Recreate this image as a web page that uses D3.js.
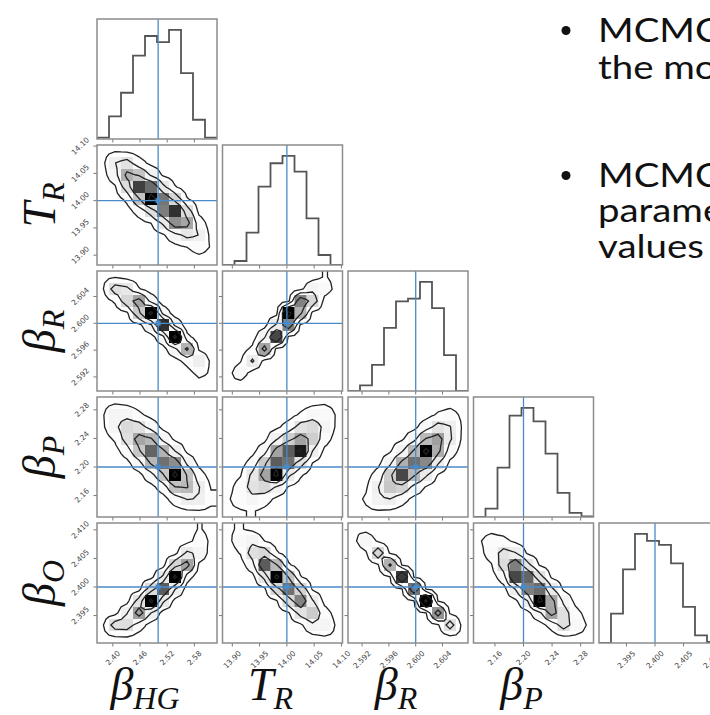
<!DOCTYPE html>
<html>
<head>
<meta charset="utf-8">
<title>Corner plot</title>
<style>
  body { margin: 0; background: #fff; }
  svg { display: block; }
  .frame { fill: none; stroke: #8c8c8c; stroke-width: 1.5; }
  .hist { fill: none; stroke: #555; stroke-width: 1.8; }
  .contour { fill: none; stroke: #222; stroke-width: 1.3; }
  .truth { stroke: #4a8ac8; stroke-width: 1.3; }
  .tickmark { stroke: #777; stroke-width: 1; }
  .ticklab { font-family: "DejaVu Sans", sans-serif; font-size: 7.5px; fill: #444; }
  .label { font-family: "Liberation Serif", serif; font-style: italic; font-size: 46px; fill: #111; }
  .note { font-family: Lato, sans-serif; font-size: 32px; fill: #111; }
</style>
</head>
<body>
<svg id="chart" width="710" height="715"></svg>
<script src="https://d3js.org/d3.v7.min.js"></script>
<script>
// parameters, in corner order
const paramBase = ["β", "T", "β", "β", "β"];
const paramSub = ["HG", "R", "R", "P", "O"];
const ranges = [[2.365, 2.63], [13.882, 14.102], [2.5899, 2.6078], [2.130, 2.298], [2.3902, 2.4112]];
const truths = [2.50, 14.00, 2.600, 2.20, 2.400];
const ticks = [
  [2.40, 2.46, 2.52, 2.58],
  [13.90, 13.95, 14.00, 14.05, 14.10],
  [2.592, 2.596, 2.600, 2.604],
  [2.16, 2.20, 2.24, 2.28],
  [2.395, 2.400, 2.405, 2.410]
];
const tickFormats = [".2f", ".2f", ".3f", ".2f", ".3f"];

// 1D histograms, 10 bins over each range
const histHG = [4, 67, 137, 247, 305, 287, 323, 195, 57, 4];
const histTR = [0, 12, 97, 235, 305, 327, 280, 140, 30, 0];
const histBR = [0, 17, 78, 188, 267, 275, 325, 247, 107, 0];
const histBP = [0, 25, 147, 302, 325, 285, 189, 72, 12, 2];
const histBO = [0, 88, 220, 326, 305, 293, 238, 108, 23, 3];
const hists = [histHG, histTR, histBR, histBP, histBO];

// 2D histograms (relative counts), rows listed from top (high y value) to bottom
const gridTR_HG = [
  [3, 6, 4, 1, 0, 0, 0, 0, 0, 0],
  [4, 24, 33, 13, 3, 0, 0, 0, 0, 0],
  [2, 17, 55, 47, 22, 5, 0, 0, 0, 0],
  [0, 5, 36, 85, 75, 30, 8, 0, 0, 0],
  [0, 1, 10, 47, 98, 72, 40, 8, 0, 0],
  [0, 0, 2, 13, 35, 70, 88, 36, 3, 0],
  [0, 0, 0, 2, 7, 28, 65, 58, 14, 1],
  [0, 0, 0, 0, 0, 5, 18, 30, 24, 3],
  [0, 0, 0, 0, 0, 0, 3, 7, 13, 6],
  [0, 0, 0, 0, 0, 0, 0, 1, 3, 3]
];
const gridBR_HG = [
  [4, 6, 2, 0, 0, 0, 0, 0, 0, 0],
  [6, 35, 30, 8, 0, 0, 0, 0, 0, 0],
  [1, 9, 40, 60, 18, 0, 0, 0, 0, 0],
  [0, 0, 4, 45, 100, 18, 0, 0, 0, 0],
  [0, 0, 0, 3, 22, 90, 20, 0, 0, 0],
  [0, 0, 0, 0, 2, 18, 100, 11, 0, 0],
  [0, 0, 0, 0, 0, 2, 20, 55, 5, 0],
  [0, 0, 0, 0, 0, 0, 2, 12, 25, 4],
  [0, 0, 0, 0, 0, 0, 0, 1, 12, 5],
  [0, 0, 0, 0, 0, 0, 0, 0, 0, 2]
];
const gridBR_TR = [
  [0, 0, 0, 0, 0, 0, 0, 2, 8, 4],
  [0, 0, 0, 0, 0, 0, 3, 20, 14, 3],
  [0, 0, 0, 0, 0, 3, 70, 40, 2, 0],
  [0, 0, 0, 0, 2, 100, 55, 3, 0, 0],
  [0, 0, 0, 2, 28, 70, 4, 0, 0, 0],
  [0, 0, 1, 22, 85, 4, 0, 0, 0, 0],
  [0, 1, 10, 60, 2, 0, 0, 0, 0, 0],
  [1, 6, 28, 2, 0, 0, 0, 0, 0, 0],
  [3, 16, 1, 0, 0, 0, 0, 0, 0, 0],
  [6, 1, 0, 0, 0, 0, 0, 0, 0, 0]
];
const gridBP_HG = [
  [4, 6, 4, 1, 0, 0, 0, 0, 0, 0],
  [6, 20, 19, 10, 3, 0, 0, 0, 0, 0],
  [5, 20, 38, 35, 17, 3, 0, 0, 0, 0],
  [1, 9, 35, 59, 53, 19, 4, 0, 0, 0],
  [0, 2, 15, 47, 78, 55, 25, 4, 0, 0],
  [0, 0, 3, 18, 53, 75, 67, 21, 3, 0],
  [0, 0, 1, 3, 17, 47, 100, 48, 13, 2],
  [0, 0, 0, 1, 3, 14, 49, 52, 26, 6],
  [0, 0, 0, 0, 0, 2, 14, 26, 24, 10],
  [0, 0, 0, 0, 0, 0, 2, 5, 6, 5]
];
const gridBP_TR = [
  [0, 0, 0, 0, 0, 0, 1, 4, 6, 4],
  [0, 0, 0, 0, 0, 2, 9, 17, 15, 6],
  [0, 0, 0, 1, 4, 13, 34, 38, 20, 5],
  [0, 0, 1, 3, 23, 44, 60, 44, 13, 2],
  [0, 0, 3, 17, 60, 80, 95, 25, 4, 0],
  [0, 2, 13, 45, 80, 75, 34, 7, 0, 0],
  [1, 6, 30, 60, 100, 29, 9, 0, 0, 0],
  [3, 13, 34, 39, 23, 6, 1, 0, 0, 0],
  [6, 13, 19, 13, 4, 0, 0, 0, 0, 0],
  [5, 6, 8, 4, 0, 0, 0, 0, 0, 0]
];
const gridBP_BR = [
  [0, 0, 0, 0, 0, 0, 0, 1, 3, 3],
  [0, 0, 0, 0, 0, 0, 2, 9, 12, 5],
  [0, 0, 0, 0, 1, 3, 16, 33, 26, 6],
  [0, 0, 0, 1, 5, 19, 52, 61, 28, 5],
  [0, 0, 1, 5, 23, 53, 100, 57, 15, 2],
  [0, 0, 3, 21, 56, 75, 68, 27, 4, 0],
  [0, 2, 13, 44, 85, 53, 28, 6, 0, 0],
  [0, 5, 24, 47, 42, 19, 6, 0, 0, 0],
  [2, 9, 22, 25, 13, 3, 0, 0, 0, 0],
  [2, 5, 6, 5, 2, 0, 0, 0, 0, 0]
];
const gridBO_HG = [
  [0, 0, 0, 0, 0, 0, 0, 0, 8, 4],
  [0, 0, 0, 0, 0, 0, 0, 2, 13, 5],
  [0, 0, 0, 0, 0, 0, 2, 29, 20, 1],
  [0, 0, 0, 0, 0, 1, 40, 60, 4, 0],
  [0, 0, 0, 0, 2, 29, 100, 13, 0, 0],
  [0, 0, 0, 2, 37, 80, 26, 1, 0, 0],
  [0, 0, 2, 34, 100, 29, 2, 0, 0, 0],
  [0, 2, 24, 62, 25, 1, 0, 0, 0, 0],
  [6, 35, 36, 15, 1, 0, 0, 0, 0, 0],
  [3, 6, 7, 1, 0, 0, 0, 0, 0, 0]
];
const gridBO_TR = [
  [6, 8, 4, 0, 0, 0, 0, 0, 0, 0],
  [4, 15, 21, 7, 1, 0, 0, 0, 0, 0],
  [1, 8, 35, 39, 9, 0, 0, 0, 0, 0],
  [0, 1, 17, 80, 52, 9, 0, 0, 0, 0],
  [0, 0, 2, 31, 100, 49, 8, 0, 0, 0],
  [0, 0, 0, 4, 40, 75, 42, 5, 0, 0],
  [0, 0, 0, 0, 5, 38, 70, 27, 3, 0],
  [0, 0, 0, 0, 0, 5, 33, 45, 13, 2],
  [0, 0, 0, 0, 0, 0, 4, 21, 20, 5],
  [0, 0, 0, 0, 0, 0, 0, 3, 6, 5]
];
const gridBO_BR = [
  [6, 3, 0, 0, 0, 0, 0, 0, 0, 0],
  [4, 18, 5, 0, 0, 0, 0, 0, 0, 0],
  [0, 5, 40, 5, 0, 0, 0, 0, 0, 0],
  [0, 0, 5, 55, 6, 0, 0, 0, 0, 0],
  [0, 0, 0, 6, 88, 6, 0, 0, 0, 0],
  [0, 0, 0, 0, 6, 75, 6, 0, 0, 0],
  [0, 0, 0, 0, 0, 6, 100, 6, 0, 0],
  [0, 0, 0, 0, 0, 0, 6, 65, 5, 0],
  [0, 0, 0, 0, 0, 0, 0, 5, 35, 4],
  [0, 0, 0, 0, 0, 0, 0, 0, 4, 5]
];
const gridBO_BP = [
  [4, 4, 1, 0, 0, 0, 0, 0, 0, 0],
  [6, 12, 11, 4, 0, 0, 0, 0, 0, 0],
  [3, 14, 33, 26, 5, 0, 0, 0, 0, 0],
  [1, 6, 37, 71, 32, 6, 0, 0, 0, 0],
  [0, 1, 15, 85, 78, 34, 5, 0, 0, 0],
  [0, 0, 2, 26, 71, 76, 29, 5, 0, 0],
  [0, 0, 0, 4, 24, 100, 59, 21, 3, 0],
  [0, 0, 0, 0, 3, 19, 60, 35, 12, 2],
  [0, 0, 0, 0, 0, 2, 12, 35, 16, 6],
  [0, 0, 0, 0, 0, 0, 1, 5, 5, 4]
];
// grids[row][col]
const grids = {
  "1,0": gridTR_HG,
  "2,0": gridBR_HG, "2,1": gridBR_TR,
  "3,0": gridBP_HG, "3,1": gridBP_TR, "3,2": gridBP_BR,
  "4,0": gridBO_HG, "4,1": gridBO_TR, "4,2": gridBO_BR, "4,3": gridBO_BP
};
// contour levels as fractions of each panel's peak cell
const contourLevels = [0.07, 0.25, 0.5, 0.9];

const noteLines = ["MCMC fits", "the model", "MCMC recovers", "parameters", "values"];
const noteBullets = [true, false, true, false, false];

// layout
const size = 120;
const colX = k => 97 + k * 125.5;
const rowY = k => 19 + k * 126;
const noteY = [42, 79, 187, 222, 258];

const svg = d3.select("#chart");
const n = paramBase.length;
const xs = ranges.map((r, k) => d3.scaleLinear().domain(r).range([colX(k), colX(k) + size]));
const ys = ranges.map((r, k) => d3.scaleLinear().domain(r).range([rowY(k) + size, rowY(k)]));
const edges = ranges.map(r => d3.range(11).map(i => r[0] + i * (r[1] - r[0]) / 10));

const defs = svg.append("defs");

function clipFor(r, c) {
  const id = `clip-${r}-${c}`;
  defs.append("clipPath").attr("id", id)
    .append("rect").attr("x", colX(c)).attr("y", rowY(r)).attr("width", size).attr("height", size);
  return `url(#${id})`;
}

function tickLabel(g, x, y, str, mode) {
  const t = g.append("text").attr("class", "ticklab").text(str)
    .attr("text-anchor", "middle").attr("dominant-baseline", "central");
  const L = t.node().getComputedTextLength();
  const b = (L + 6) * Math.SQRT1_2;
  const cx = mode === "x" ? x : x - b / 2;
  const cy = mode === "x" ? y + b / 2 : y;
  t.attr("transform", `translate(${cx},${cy}) rotate(-45)`);
}

// pad the grid the way corner does, so contours can close past the edges
function padGrid(H) {
  const m = H.length, N = m + 4;
  const P = Array.from({ length: N }, () => new Array(N).fill(0));
  for (let j = 0; j < m; j++) for (let i = 0; i < m; i++) P[j + 2][i + 2] = H[j][i];
  for (let j = 0; j < m; j++) { P[j + 2][1] = H[j][0]; P[j + 2][N - 2] = H[j][m - 1]; }
  for (let i = 0; i < m; i++) { P[1][i + 2] = H[0][i]; P[N - 2][i + 2] = H[m - 1][i]; }
  P[1][1] = H[0][0]; P[1][N - 2] = H[0][m - 1];
  P[N - 2][1] = H[m - 1][0]; P[N - 2][N - 2] = H[m - 1][m - 1];
  return { values: P.flat(), N };
}

// halve the grid step (bilinear) so saddle cells resolve like matplotlib's contour
function refine(values, N) {
  const M = 2 * N - 1, out = new Array(M * M);
  for (let q = 0; q < M; q++) for (let p = 0; p < M; p++) {
    const x = p / 2, y = q / 2;
    const x0 = Math.floor(x), y0 = Math.floor(y);
    const x1 = Math.min(x0 + 1, N - 1), y1 = Math.min(y0 + 1, N - 1);
    const fx = x - x0, fy = y - y0;
    out[q * M + p] = (1 - fx) * (1 - fy) * values[y0 * N + x0] + fx * (1 - fy) * values[y0 * N + x1]
      + (1 - fx) * fy * values[y1 * N + x0] + fx * fy * values[y1 * N + x1];
  }
  return { grid: out, M };
}

function xAxisTicks(g, r, c, labels) {
  const bottom = rowY(r) + size;
  ticks[c].forEach(t => {
    const x = xs[c](t);
    g.append("line").attr("class", "tickmark").attr("x1", x).attr("x2", x).attr("y1", bottom).attr("y2", bottom + 3.5);
    if (labels) tickLabel(g, x, bottom + 7, d3.format(tickFormats[c])(t), "x");
  });
}
function yAxisTicks(g, r, c, labels) {
  const left = colX(c);
  ticks[r].forEach(t => {
    const y = ys[r](t);
    g.append("line").attr("class", "tickmark").attr("x1", left - 3.5).attr("x2", left).attr("y1", y).attr("y2", y);
    if (labels) tickLabel(g, left - 7, y, d3.format(tickFormats[r])(t), "y");
  });
}

for (let r = 0; r < n; r++) {
  for (let c = 0; c <= r; c++) {
    const g = svg.append("g");
    const inner = g.append("g").attr("clip-path", clipFor(r, c));
    const x0 = colX(c), y0 = rowY(r);

    if (r === c) {
      const h = hists[c];
      const hy = d3.scaleLinear().domain([0, 1.1 * d3.max(h)]).range([y0 + size, y0]);
      const pts = [[edges[c][0], 0]];
      h.forEach((v, i) => { pts.push([edges[c][i], v], [edges[c][i + 1], v]); });
      pts.push([edges[c][10], 0]);
      inner.append("path").attr("class", "hist")
        .attr("d", d3.line().x(d => xs[c](d[0])).y(d => hy(d[1]))(pts));
      inner.append("line").attr("class", "truth")
        .attr("x1", xs[c](truths[c])).attr("x2", xs[c](truths[c])).attr("y1", y0).attr("y2", y0 + size);
    } else {
      const H = grids[`${r},${c}`];
      const hmax = d3.max(H.flat());
      const cells = [];
      H.forEach((row, j) => row.forEach((v, i) => { if (v > 0) cells.push({ i, j, v }); }));
      inner.selectAll("rect.cell").data(cells).join("rect").attr("class", "cell")
        .attr("x", d => xs[c](edges[c][d.i]))
        .attr("width", d => xs[c](edges[c][d.i + 1]) - xs[c](edges[c][d.i]) + 0.3)
        .attr("y", d => ys[r](edges[r][10 - d.j]))
        .attr("height", d => ys[r](edges[r][9 - d.j]) - ys[r](edges[r][10 - d.j]) + 0.3)
        .attr("fill", d => { const g2 = Math.round(255 * (1 - (d.v / hmax) ** 2)); return d3.rgb(g2, g2, g2); });

      const { values, N } = padGrid(H);
      const { grid, M } = refine(values, N);
      const dx = (ranges[c][1] - ranges[c][0]) / 10, dy = (ranges[r][1] - ranges[r][0]) / 10;
      const proj = d3.geoTransform({
        point(px, py) {
          const kx = (px - 0.5) / 2 - 1.5, ky = (py - 0.5) / 2 - 1.5;
          this.stream.point(xs[c](ranges[c][0] + kx * dx), ys[r](ranges[r][1] - ky * dy));
        }
      });
      const path = d3.geoPath(proj);
      const contours = d3.contours().size([M, M]).thresholds(contourLevels.map(l => l * hmax))(grid);
      inner.selectAll("path.contour").data(contours).join("path").attr("class", "contour").attr("d", path);

      const tx = xs[c](truths[c]), ty = ys[r](truths[r]);
      inner.append("line").attr("class", "truth").attr("x1", tx).attr("x2", tx).attr("y1", y0).attr("y2", y0 + size);
      inner.append("line").attr("class", "truth").attr("x1", x0).attr("x2", x0 + size).attr("y1", ty).attr("y2", ty);
      inner.append("rect").attr("x", tx - 2.5).attr("y", ty - 2.5).attr("width", 5).attr("height", 5).attr("fill", "#4a8ac8");
      yAxisTicks(g, r, c, c === 0);
    }
    xAxisTicks(g, r, c, r === n - 1);
    g.append("rect").attr("class", "frame").attr("x", x0).attr("y", y0).attr("width", size).attr("height", size);
  }
}

// axis labels
function mathLabel(sel, k) {
  sel.append("tspan").text(paramBase[k]);
  sel.append("tspan").attr("font-size", 32).attr("dy", 9).text(paramSub[k]);
}
for (let k = 1; k < n; k++) {
  const t = svg.append("text").attr("class", "label").attr("text-anchor", "middle")
    .attr("transform", `translate(55,${rowY(k) + size / 2}) rotate(-90)`);
  mathLabel(t, k);
}
for (let k = 0; k < n - 1; k++) {
  const t = svg.append("text").attr("class", "label").attr("text-anchor", "middle")
    .attr("x", colX(k) + size / 2 - 12).attr("y", 700);
  mathLabel(t, k);
}

// bullet notes on the right (wide geometric face imitated by a horizontal stretch)
noteLines.forEach((line, i) => {
  if (noteBullets[i]) svg.append("circle").attr("cx", 566).attr("cy", noteY[i] - 11.5).attr("r", 4.5).attr("fill", "#111");
  svg.append("text").attr("class", "note")
    .attr("transform", `translate(598,${noteY[i]}) scale(1.2,1)`).text(line);
});
</script>
</body>
</html>
